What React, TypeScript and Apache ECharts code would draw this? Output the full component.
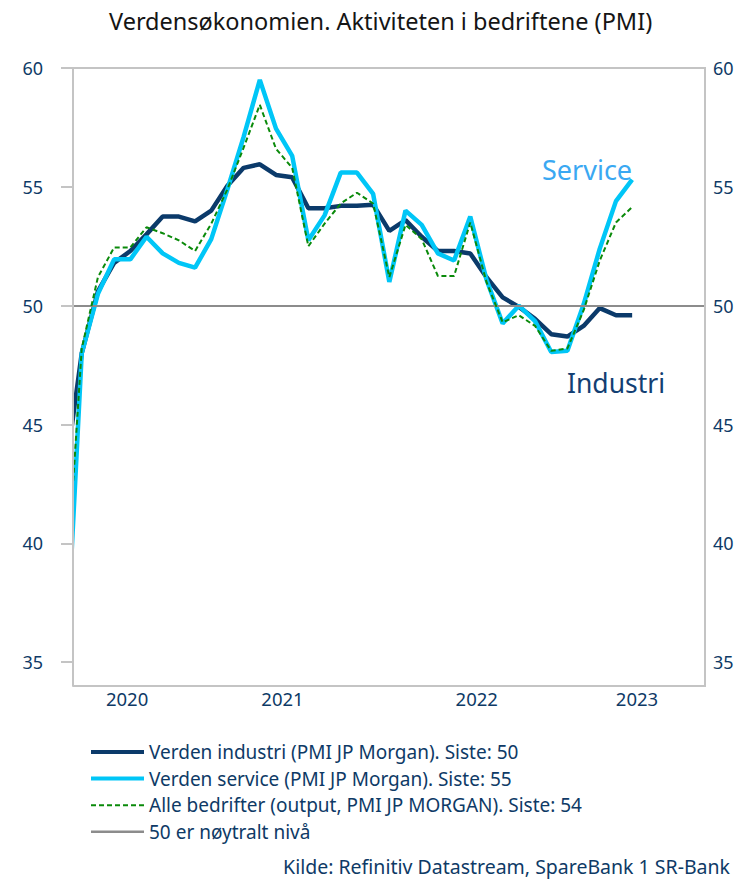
import React, { useEffect, useRef } from "react";
import * as echarts from "echarts";

// Monthly data, May 2020 – Apr 2023
const months = [
  "2020-05", "2020-06", "2020-07", "2020-08", "2020-09", "2020-10", "2020-11", "2020-12",
  "2021-01", "2021-02", "2021-03", "2021-04", "2021-05", "2021-06", "2021-07", "2021-08",
  "2021-09", "2021-10", "2021-11", "2021-12", "2022-01", "2022-02", "2022-03", "2022-04",
  "2022-05", "2022-06", "2022-07", "2022-08", "2022-09", "2022-10", "2022-11", "2022-12",
  "2023-01", "2023-02", "2023-03", "2023-04",
];

const industri = [
  43.0, 48.0, 50.6, 51.8, 52.3, 53.0, 53.75, 53.75,
  53.55, 54.0, 55.05, 55.8, 55.95, 55.5, 55.4, 54.1,
  54.1, 54.2, 54.2, 54.25, 53.15, 53.6, 52.9, 52.3,
  52.3, 52.2, 51.2, 50.35, 49.95, 49.45, 48.8, 48.7,
  49.15, 49.9, 49.6, 49.6,
];

const service = [
  34.6, 48.0, 50.5, 51.95, 51.95, 52.9, 52.2, 51.8,
  51.6, 52.8, 54.9, 57.1, 59.5, 57.45, 56.3, 52.75,
  53.8, 55.6, 55.6, 54.7, 51.0, 54.0, 53.4, 52.2,
  51.9, 53.75, 51.1, 49.25, 50.0, 49.35, 48.05, 48.1,
  50.05, 52.4, 54.4, 55.3,
];

const alleBedrifter = [
  37.6, 48.2, 51.2, 52.45, 52.45, 53.3, 53.05, 52.75,
  52.3, 53.45, 54.9, 56.65, 58.45, 56.6, 55.8, 52.5,
  53.45, 54.3, 54.75, 54.3, 51.2, 53.4, 52.8, 51.25,
  51.25, 53.5, 51.0, 49.3, 49.6, 49.15, 48.1, 48.2,
  49.8, 51.9, 53.5, 54.15,
];

const neutralLevel = 50;

const yTicks = [35, 40, 45, 50, 55, 60];
const yearLabels = ["2020", "2021", "2022", "2023"];
const yearLabelPos = [3.8, 13.4, 25.4, 35.3];

const seriesNames = [
  "Verden industri (PMI JP Morgan). Siste: 50",
  "Verden service (PMI JP Morgan). Siste: 55",
  "Alle bedrifter (output, PMI JP MORGAN). Siste: 54",
  "50 er nøytralt nivå",
];

const NAVY = "#0B3A6A";
const CYAN = "#00C6F7";
const GREEN = "#0A8A0A";
const GREY = "#8C8C8C";
const FRAME = "#C4C4C4";
const TEXT = "#0E3A66";
const FONT = "'Noto Sans', 'Open Sans', sans-serif";

const toPairs = (arr: number[]) => arr.map((v, i) => [i, v]);

export default function App() {
  const ref = useRef<HTMLDivElement>(null);

  useEffect(() => {
    if (!ref.current) return;
    const chart = echarts.init(ref.current, undefined, { renderer: "svg" });

    const hiddenSymbol = {
      color: "rgba(0,0,0,0)",
      borderColor: "rgba(0,0,0,0)",
      borderWidth: 0,
      opacity: 0,
    };

    const option: any = {
      animation: false,
      backgroundColor: "#ffffff",
      textStyle: { fontFamily: FONT },
      title: {
        text: "Verdensøkonomien. Aktiviteten i bedriftene (PMI)",
        left: 104,
        top: 4,
        textStyle: {
          fontFamily: FONT,
          fontSize: 23.5,
          fontWeight: "normal",
          color: "#151515",
        },
      },
      grid: {
        left: 73,
        top: 68,
        right: 32,
        bottom: 195,
        show: true,
        borderColor: FRAME,
        borderWidth: 2,
        containLabel: false,
      },
      legend: {
        orient: "vertical",
        left: 84,
        top: 736,
        itemWidth: 53,
        itemHeight: 14,
        itemGap: 4.6,
        itemStyle: hiddenSymbol,
        data: [
          { name: seriesNames[0], lineStyle: { width: 4 } },
          { name: seriesNames[1], lineStyle: { width: 4 } },
          { name: seriesNames[2], lineStyle: { width: 2 } },
          { name: seriesNames[3], lineStyle: { width: 2.5 } },
        ],
        textStyle: {
          fontFamily: FONT,
          fontSize: 19,
          color: TEXT,
          lineHeight: 22,
        },
      },
      xAxis: {
        type: "value",
        min: 0.46,
        max: 39.5,
        axisLine: { show: true, lineStyle: { color: FRAME, width: 2 } },
        axisTick: { show: false },
        splitLine: { show: false },
        axisLabel: {
          customValues: yearLabelPos,
          formatter: (v: number) => {
            let best = 0;
            yearLabelPos.forEach((p, i) => {
              if (Math.abs(p - v) < Math.abs(yearLabelPos[best] - v)) best = i;
            });
            return yearLabels[best];
          },
          margin: 3,
          fontSize: 18.5,
          color: TEXT,
          fontFamily: FONT,
        },
      },
      yAxis: [
        {
          type: "value",
          position: "left",
          min: 34,
          max: 60,
          z: 60,
          axisLine: { show: true, lineStyle: { color: FRAME, width: 2 } },
          axisTick: {
            show: true,
            length: 12,
            customValues: yTicks,
            lineStyle: { color: FRAME, width: 2 },
          },
          splitLine: { show: false },
          axisLabel: {
            customValues: yTicks,
            margin: 30,
            fontSize: 18,
            color: TEXT,
            fontFamily: FONT,
          },
        },
        {
          type: "value",
          position: "right",
          min: 34,
          max: 60,
          z: 60,
          axisLine: { show: true, lineStyle: { color: FRAME, width: 2 } },
          axisTick: { show: false },
          splitLine: { show: false },
          axisLabel: {
            customValues: yTicks,
            margin: 8,
            fontSize: 18,
            color: TEXT,
            fontFamily: FONT,
          },
        },
      ],
      series: [
        {
          name: seriesNames[3],
          type: "line",
          data: [],
          symbol: "none",
          color: GREY,
          lineStyle: { color: GREY, width: 2 },
          markLine: {
            silent: true,
            symbol: "none",
            label: { show: false },
            lineStyle: { color: GREY, width: 2, type: "solid" },
            data: [{ yAxis: neutralLevel }],
          },
          z: 1,
        },
        {
          name: seriesNames[0],
          type: "line",
          data: toPairs(industri),
          symbol: "none",
          color: NAVY,
          lineStyle: { color: NAVY, width: 4.5 },
          z: 3,
        },
        {
          name: seriesNames[1],
          type: "line",
          data: toPairs(service),
          symbol: "none",
          color: CYAN,
          lineStyle: { color: CYAN, width: 4.5 },
          z: 4,
        },
        {
          name: seriesNames[2],
          type: "line",
          data: toPairs(alleBedrifter),
          symbol: "none",
          color: GREEN,
          lineStyle: { color: GREEN, width: 2, type: [5, 3] },
          z: 5,
        },
      ],
      graphic: [
        {
          type: "rect",
          shape: { x: 58, y: 60, width: 15, height: 630 },
          style: { fill: "#ffffff" },
          z: 50,
          silent: true,
        },
        {
          type: "text",
          left: 542,
          top: 156,
          z: 55,
          style: {
            text: "Service",
            fontFamily: FONT,
            fontSize: 27,
            fill: "#3AA8F2",
          },
        },
        {
          type: "text",
          left: 567,
          top: 369,
          z: 55,
          style: {
            text: "Industri",
            fontFamily: FONT,
            fontSize: 26.5,
            fill: "#133F73",
          },
        },
        {
          type: "text",
          right: 7,
          top: 856,
          z: 55,
          style: {
            text: "Kilde: Refinitiv Datastream, SpareBank 1 SR-Bank",
            fontFamily: FONT,
            fontSize: 19.5,
            fill: TEXT,
          },
        },
      ],
    };

    chart.setOption(option);
    return () => chart.dispose();
  }, []);

  return (
    <div
      ref={ref}
      style={{ position: "fixed", left: 0, top: 0, width: 737, height: 881 }}
    />
  );
}
